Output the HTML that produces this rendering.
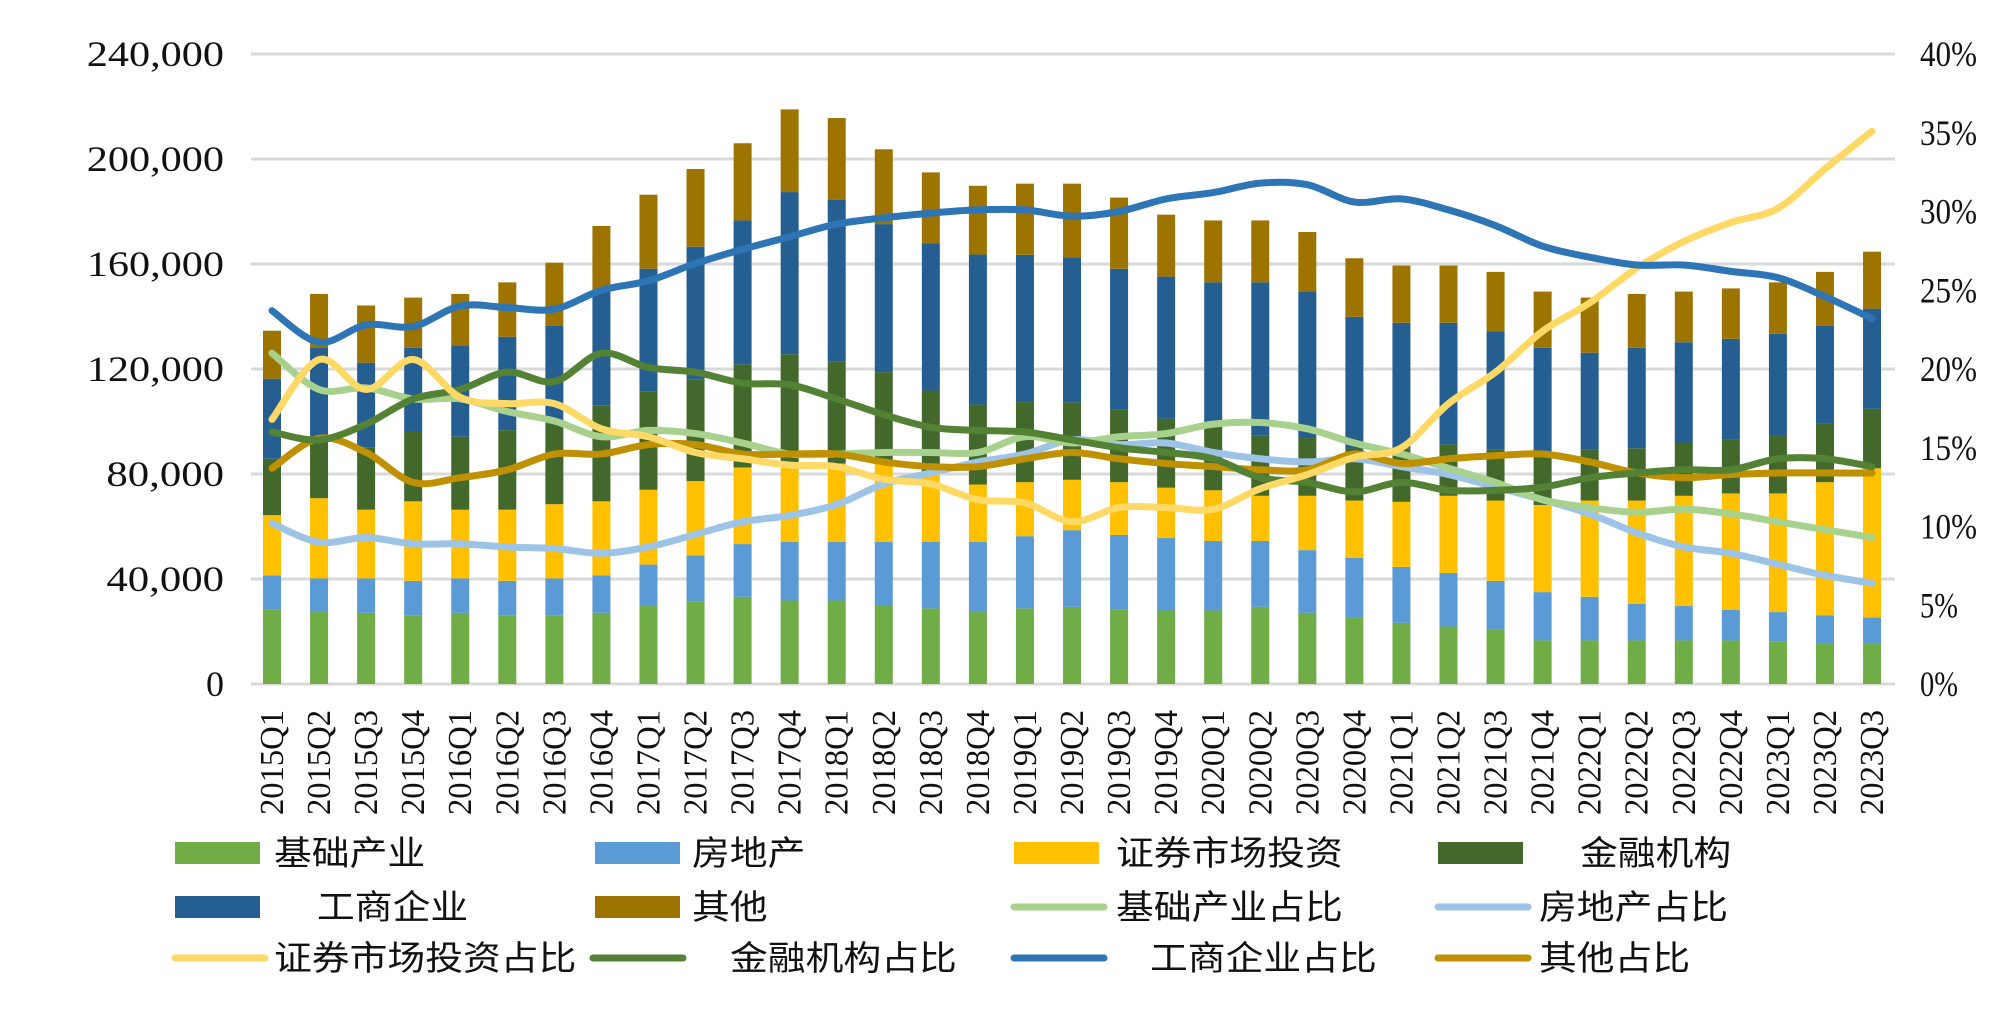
<!DOCTYPE html>
<html><head><meta charset="utf-8">
<style>
html,body{margin:0;padding:0;background:#fff;}
svg{display:block;}
</style></head>
<body>
<svg id="chart" width="2000" height="1018" viewBox="0 0 2000 1018" xmlns="http://www.w3.org/2000/svg">
<g id="grid"></g>
<g id="yleft"></g>
<g id="yright"></g>
<g id="bars"></g>
<g id="lines"></g>
<g id="xaxis"></g>
<g id="legend"></g>
</svg>
<script>
const categories = ["2015Q1","2015Q2","2015Q3","2015Q4","2016Q1","2016Q2","2016Q3","2016Q4","2017Q1","2017Q2","2017Q3","2017Q4","2018Q1","2018Q2","2018Q3","2018Q4","2019Q1","2019Q2","2019Q3","2019Q4","2020Q1","2020Q2","2020Q3","2020Q4","2021Q1","2021Q2","2021Q3","2021Q4","2022Q1","2022Q2","2022Q3","2022Q4","2023Q1","2023Q2","2023Q3"];
// stacked segment values (in thousands)
const infra   = [28.3,27.4,27.1,26.2,27.1,26.2,26.2,27.1,29.7,31.5,33.2,31.8,31.8,30.1,28.8,27.4,28.8,29.4,28.5,28,28,29.4,27.1,25.3,23.3,21.9,20.6,16.6,16.6,16.6,16.6,16.6,16.1,15.4,15.4];
const realty  = [13.1,12.8,13.1,13.1,13.1,13.1,14,14.3,15.8,17.5,20.1,22.4,22.4,24.1,25.4,26.8,27.5,29.2,28.3,27.6,26.5,25.1,23.9,22.8,21.3,20.4,18.7,18.4,16.6,14,13.1,11.7,11.3,10.8,9.9];
const secs    = [22.9,30.6,26.2,30.3,26.2,27.1,28.3,28.2,28.5,28.3,29.2,29.8,29.8,29.8,25.8,21.8,20.6,19.2,20.1,19.2,19.3,17.2,20.7,21.8,24.8,29.4,30.6,33.2,36.7,39.3,42,44.3,45.2,50.7,56.9];
const finInst = [21.5,23,23.8,26.6,27.8,30.3,30.8,36.6,37.5,38.8,39.3,41.6,39,34.8,31.8,30.5,30.5,29.5,27.8,26.3,25.3,23.1,22,19.8,20.4,19.6,19.3,18.7,19.3,19.9,20.3,20.5,21.9,22.5,22.7];
const corp    = [30.5,34.2,32.2,31.9,34.8,35.6,37.1,43.8,46.7,50.5,54.8,61.8,61.4,56.4,56,57.1,56.1,55.3,53.5,54.1,53.9,58.2,55.8,50.2,47.8,46.3,45.1,41.2,37,38.3,38.2,38.4,38.9,37,38.1];
const other   = [18.3,20.6,21.8,19.1,19.6,20.7,24.1,24.5,28.2,29.6,29.4,31.5,31.2,28.5,27.1,26.2,27.1,28,27.1,23.6,23.6,23.6,22.7,22.3,21.8,21.8,22.7,21.4,21,20.5,19.3,19.2,19.6,20.6,21.7];
// share lines (%)
const infraPct   = [21,18.7,18.8,18.1,18.1,17.3,16.7,15.7,16.1,15.9,15.3,14.6,14.6,14.7,14.7,14.7,15.7,15.3,15.7,15.9,16.5,16.6,16.2,15.3,14.6,13.7,12.8,11.7,11.2,10.9,11.1,10.8,10.3,9.8,9.3];
const realtyPct  = [10.2,9,9.3,8.9,8.9,8.7,8.6,8.3,8.7,9.5,10.3,10.7,11.4,12.7,13.4,14.1,14.6,15.5,15.2,15.3,14.7,14.3,14.1,14.3,13.8,13.3,12.5,11.7,10.8,9.6,8.7,8.3,7.6,6.9,6.4];
const secsPct    = [16.8,20.6,18.7,20.6,18.2,17.8,17.8,16.2,15.7,14.7,14.3,13.9,13.8,13,12.7,11.7,11.5,10.3,11.2,11.2,11.1,12.4,13.3,14.4,15,17.8,19.8,22.4,24.2,26.4,28.1,29.3,30.2,32.7,35.1];
const finInstPct = [16,15.5,16.5,18.1,18.7,19.8,19.2,21,20.1,19.8,19.1,19,18.1,17.1,16.3,16.1,16,15.5,15,14.7,14.3,13.1,12.8,12.2,12.8,12.3,12.3,12.5,13.1,13.4,13.6,13.6,14.3,14.3,13.8];
const corpPct    = [23.7,21.7,22.8,22.7,24,23.9,23.8,25,25.6,26.7,27.6,28.4,29.2,29.6,29.9,30.1,30.1,29.7,30,30.8,31.2,31.8,31.7,30.6,30.8,30.1,29.1,27.8,27.1,26.6,26.6,26.2,25.8,24.6,23.2];
const otherPct   = [13.7,15.6,14.7,12.8,13.1,13.6,14.6,14.6,15.2,15.2,14.6,14.6,14.6,14.1,13.8,13.8,14.3,14.7,14.3,14,13.8,13.6,13.6,14.6,14,14.3,14.5,14.6,14.1,13.4,13.1,13.3,13.4,13.4,13.4];
const leftTicks = [0,40,80,120,160,200,240];
const leftTickLabels = ["0","40,000","80,000","120,000","160,000","200,000","240,000"];
const rightTicks = [0,5,10,15,20,25,30,35,40];

const NS="http://www.w3.org/2000/svg";
function mk(tag, attrs, parent){const e=document.createElementNS(NS,tag);for(const k in attrs)e.setAttribute(k,attrs[k]);parent.appendChild(e);return e;}
const Y0=684, Y1=54, X0=272, DX=47.06;
const yL = v => Y0 - v/240*(Y0-Y1);
const yR = p => Y0 - p/40*(Y0-Y1);
const xC = i => X0 + i*DX;

const grid=document.getElementById('grid'), yl=document.getElementById('yleft'), yr=document.getElementById('yright');
leftTicks.forEach((t,i)=>{
  const l=mk('line',{x1:251,x2:1895,y1:yL(t),y2:yL(t),stroke:'#d9d9d9','stroke-width':3},grid);
  
  
  const tx=mk('text',{x:224,y:yL(t)+12,'text-anchor':'end','font-family':'"Liberation Serif",serif','font-size':36,fill:'#111'},yl);
  
  
  tx.textContent=leftTickLabels[i];
  if(leftTickLabels[i].length>1){tx.setAttribute('textLength',leftTickLabels[i].length*19.6);tx.setAttribute('lengthAdjust','spacingAndGlyphs');}
});
rightTicks.forEach(t=>{
  const tx=mk('text',{x:1920,y:yR(t)+12,'font-family':'"Liberation Serif",serif','font-size':36,fill:'#111'},yr);
  
  
  tx.textContent=t+'%';
  tx.setAttribute('textLength',(String(t).length+1)*19);
  tx.setAttribute('lengthAdjust','spacingAndGlyphs');
});

const series=[[infra,'#70ad47','infra'],[realty,'#5b9bd5','realty'],[secs,'#ffc000','securities'],[finInst,'#43682b','fin-inst'],[corp,'#255e91','corp'],[other,'#9e7400','other']];
const bars=document.getElementById('bars');
categories.forEach((c,i)=>{
  let cum=0;
  series.forEach(([arr,col,nm])=>{
    const v=arr[i];
    const r=mk('rect',{x:xC(i)-9,y:yL(cum+v),width:18,height:yL(cum)-yL(cum+v),fill:col},bars);
    
    
    cum+=v;
  });
});

function smoothPath(arr){
  const pts=arr.map((p,i)=>[xC(i),yR(p)]);
  let d='M'+pts[0][0]+','+pts[0][1];
  for(let i=0;i<pts.length-1;i++){
    const p0=pts[Math.max(0,i-1)],p1=pts[i],p2=pts[i+1],p3=pts[Math.min(pts.length-1,i+2)];
    const c1=[p1[0]+(p2[0]-p0[0])/6,p1[1]+(p2[1]-p0[1])/6];
    const c2=[p2[0]-(p3[0]-p1[0])/6,p2[1]-(p3[1]-p1[1])/6];
    d+=' C'+c1[0]+','+c1[1]+' '+c2[0]+','+c2[1]+' '+p2[0]+','+p2[1];
  }
  return d;
}
const lineSeries=[[realtyPct,'#9dc3e6','realty-share-line'],[infraPct,'#a9d18e','infra-share-line'],[otherPct,'#bf9000','other-share-line'],[finInstPct,'#548235','fin-inst-share-line'],[secsPct,'#ffd966','securities-share-line'],[corpPct,'#2e75b6','corp-share-line']];
const lines=document.getElementById('lines');
lineSeries.forEach(([arr,col,nm])=>{
  const p=mk('path',{d:smoothPath(arr),fill:'none',stroke:col,'stroke-width':7,'stroke-linecap':'round','stroke-linejoin':'round'},lines);
  
  
});

const xa=document.getElementById('xaxis');
categories.forEach((c,i)=>{
  const x=xC(i)+11;
  const t=mk('text',{x:0,y:0,transform:'translate('+x+',710) rotate(-90)','text-anchor':'end','font-family':'"Liberation Serif",serif','font-size':34,fill:'#111',textLength:105,lengthAdjust:'spacingAndGlyphs'},xa);
  
  
  t.textContent=c;
});

const legendItems=[
  ['rect','#70ad47',175,853,'基础产业',274],
  ['rect','#5b9bd5',595,853,'房地产',692],
  ['rect','#ffc000',1014,853,'证券市场投资',1116],
  ['rect','#43682b',1438,853,'金融机构',1580],
  ['rect','#255e91',175,907,'工商企业',317],
  ['rect','#9e7400',595,907,'其他',692],
  ['line','#a9d18e',1014,907,'基础产业占比',1116],
  ['line','#9dc3e6',1438,907,'房地产占比',1539],
  ['line','#ffd966',175,958,'证券市场投资占比',274],
  ['line','#548235',593,958,'金融机构占比',730],
  ['line','#2e75b6',1014,958,'工商企业占比',1150],
  ['line','#bf9000',1438,958,'其他占比',1539]
];
const lg=document.getElementById('legend');
legendItems.forEach(([type,col,sx,cy,label,tx])=>{
  const g=mk('g',{},lg);
  
  
  if(type==='rect'){mk('rect',{x:sx,y:cy-11,width:85,height:22,fill:col},g);}
  else{mk('line',{x1:sx,x2:sx+90,y1:cy,y2:cy,stroke:col,'stroke-width':7,'stroke-linecap':'round'},g);}
  const t=mk('text',{x:tx,y:cy+12,'font-family':'"Liberation Sans","Noto Sans CJK SC",sans-serif','font-size':34,fill:'#111',textLength:label.length*37.8,lengthAdjust:'spacingAndGlyphs'},g);
  t.textContent=label;
});
</script>
</body></html>
